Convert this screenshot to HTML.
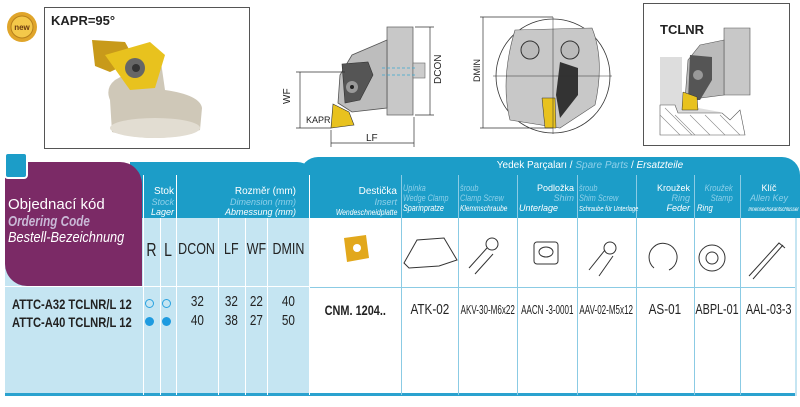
<!DOCTYPE html>
<html><head><meta charset="utf-8"><style>
body{margin:0;width:800px;height:407px;background:#fff;overflow:hidden;position:relative;font-family:"Liberation Sans",sans-serif}
.a{position:absolute}
.hd{position:absolute;text-align:right;font-size:9px;line-height:10px;color:#fff;white-space:nowrap}
.c{position:absolute;display:flex;justify-content:center;text-align:center;font-size:14px;color:#222;white-space:nowrap}
.c span,.sx{display:inline-block;transform:scaleX(.78);flex:none}
.c span.t{transform:scaleX(.62)}
</style></head><body>
<svg class="a" style="left:0;top:0" width="800" height="407" viewBox="0 0 800 407">
<circle cx="22" cy="27" r="15" fill="#e0a52a"/><circle cx="22" cy="27" r="11" fill="#f4c84a" stroke="#b7801c"/>
<text x="22" y="30" font-size="8" font-weight="bold" text-anchor="middle" fill="#6a3a10" font-family="Liberation Sans">new</text>
<rect x="44.5" y="7.5" width="205" height="141" fill="#fff" stroke="#555"/>
<text x="51" y="25" font-size="13" font-weight="bold" fill="#222" font-family="Liberation Sans">KAPR=95°</text>
<path d="M110 100 Q105 88 115 80 L160 55 L165 90 Q200 95 202 108 L200 130 Q160 145 112 132 Z" fill="#cfc8b8"/>
<ellipse cx="155" cy="128" rx="45" ry="10" fill="#e2ddd2"/>
<path d="M92 40 L125 42 L135 60 L110 72 L95 66 Z" fill="#c89a1a"/>
<path d="M105 55 L150 42 L165 55 L155 88 L130 90 Z" fill="#e8c21e"/>
<circle cx="135" cy="68" r="10" fill="#666"/><circle cx="136" cy="68" r="4" fill="#333"/>
<path d="M387 27 L413 27 L413 115 L387 115 Z" fill="#c8c8c8" stroke="#666" stroke-width=".8"/>
<path d="M387 40 L352 55 L340 75 L338 103 L352 112 L387 108 Z" fill="#bdbdbd" stroke="#555" stroke-width=".8"/>
<path d="M342 64 L368 62 L373 75 L360 100 L345 103 Z" fill="#555" stroke="#333" stroke-width=".6"/>
<circle cx="352" cy="87" r="6" fill="#999"/><circle cx="352" cy="87" r="2" fill="#222"/>
<path d="M333 104 L349 112 L354 125 L331 128 Z" fill="#e8c21e" stroke="#333" stroke-width=".6"/>
<rect x="413" y="63" width="12" height="15" fill="#ccc" stroke="#666" stroke-width=".6"/>
<path d="M382 68 L415 68 M382 75 L415 75" stroke="#3aa6d0" stroke-dasharray="3,2" stroke-width=".7"/>
<g stroke="#333" stroke-width=".7" fill="none">
<path d="M300 72 L300 128 M296 72 L345 72 M296 128 L331 128 M331 130 L331 147 M414 117 L414 147 M331 143 L414 143 M415 27 L434 27 M415 115 L434 115 M430 27 L430 115"/>
</g>
<text x="290" y="104" font-size="10" fill="#222" transform="rotate(-90 290 104)" font-family="Liberation Sans">WF</text>
<text x="306" y="123" font-size="9" fill="#222" font-family="Liberation Sans">KAPR</text>
<text x="366" y="141" font-size="10" fill="#222" font-family="Liberation Sans">LF</text>
<text x="441" y="84" font-size="10" fill="#222" transform="rotate(-90 441 84)" font-family="Liberation Sans">DCON</text>
<circle cx="553" cy="76" r="57" fill="#fff" stroke="#333" stroke-width=".8"/>
<path d="M515 30 L592 28 Q605 60 595 105 L560 128 L510 120 Q500 80 515 30 Z" fill="#c8c8c8" stroke="#555" stroke-width=".6"/>
<circle cx="530" cy="50" r="9" fill="#bbb" stroke="#333"/><circle cx="570" cy="50" r="9" fill="#bbb" stroke="#333"/>
<path d="M560 62 L578 68 L578 95 L560 118 L556 95 Z" fill="#333"/>
<path d="M542 98 L555 98 L556 128 L545 128 Z" fill="#e8c21e" stroke="#333" stroke-width=".5"/>
<path d="M553 17 L553 134 M493 76 L612 76" stroke="#333" stroke-width=".5"/>
<path d="M483 17 L483 128 M480 17 L553 17 M480 128 L553 128" stroke="#333" stroke-width=".7"/>
<text x="480" y="82" font-size="9" fill="#222" transform="rotate(-90 480 82)" font-family="Liberation Sans">DMIN</text>
<rect x="643.5" y="3.5" width="146" height="142" fill="#fff" stroke="#555"/>
<text x="660" y="34" font-size="13" font-weight="bold" fill="#222" font-family="Liberation Sans">TCLNR</text>
<path d="M660 57 L682 57 L682 105 L720 112 L730 120 L735 135 L660 135 Z" fill="#ddd"/>
<path d="M660 105 L675 105 L678 113 L722 113 L730 120 L740 110 L745 135 L660 135 Z" fill="#fff" stroke="#555" stroke-width=".6"/>
<g stroke="#888" stroke-width=".6"><path d="M660 115 L680 135 M665 108 L692 135 M675 115 L695 135 M690 115 L710 135 M705 115 L725 135 M720 115 L740 135"/></g>
<path d="M724 28 L750 28 L750 95 L724 95 Z" fill="#c8c8c8" stroke="#555" stroke-width=".6"/>
<path d="M724 40 L700 45 L688 60 L685 100 L724 95 Z" fill="#bbb" stroke="#555" stroke-width=".6"/>
<path d="M690 55 L712 57 L712 80 L700 100 L688 100 Z" fill="#555"/>
<circle cx="698" cy="75" r="5" fill="#999"/>
<path d="M683 92 L697 97 L698 110 L682 110 Z" fill="#e8c21e" stroke="#333" stroke-width=".5"/>
</svg>

<div class="a" style="left:5px;top:218px;width:304px;height:177px;background:#c5e5f2"></div>
<div class="a" style="left:5px;top:393px;width:790px;height:3px;background:#2aa2cf"></div>
<div class="a" style="left:795px;top:175px;width:2px;height:221px;background:#c5e5f2"></div>
<div class="a" style="left:309px;top:287px;width:486px;height:1px;background:#8bcbe4"></div>
<div class="a" style="left:5px;top:286px;width:304px;height:1px;background:#fff"></div>
<div class="a" style="left:130px;top:162px;width:185px;height:56px;background:#1c9dc8;border-radius:0 18px 0 0"></div>
<div class="a" style="left:300px;top:157px;width:500px;height:61px;background:#1c9dc8;border-radius:18px 18px 0 0"></div>
<div class="a" style="left:5px;top:162px;width:137px;height:124px;background:#7b2a66;border-radius:0 22px 0 22px"></div>
<div class="a" style="left:4px;top:152px;width:20px;height:23px;background:#1c9dc8;border:2px solid #fff;border-radius:4px"></div>
<div class="a" style="left:8px;top:196px;color:#fff;font-size:15px;white-space:nowrap">Objednací kód</div>
<div class="a" style="left:8px;top:213px;color:#c9b8d6;font-size:15px;font-weight:bold;font-style:italic;white-space:nowrap"><span class="sx" style="transform-origin:left">Ordering Code</span></div>
<div class="a" style="left:8px;top:229px;color:#fff;font-size:15px;font-style:italic;white-space:nowrap"><span class="sx" style="transform:scaleX(.85);transform-origin:left">Bestell-Bezeichnung</span></div>
<div class="a" style="left:143px;top:175px;width:1px;height:220px;background:#fff"></div>
<div class="a" style="left:160px;top:218px;width:1px;height:177px;background:#fff"></div>
<div class="a" style="left:176px;top:175px;width:1px;height:220px;background:#fff"></div>
<div class="a" style="left:218px;top:218px;width:1px;height:177px;background:#fff"></div>
<div class="a" style="left:245px;top:218px;width:1px;height:177px;background:#fff"></div>
<div class="a" style="left:267px;top:218px;width:1px;height:177px;background:#fff"></div>
<div class="a" style="left:309px;top:175px;width:1px;height:220px;background:#fff"></div>
<div class="a" style="left:401px;top:175px;width:1px;height:220px;background:#8bcbe4"></div>
<div class="a" style="left:458px;top:175px;width:1px;height:220px;background:#8bcbe4"></div>
<div class="a" style="left:517px;top:175px;width:1px;height:220px;background:#8bcbe4"></div>
<div class="a" style="left:577px;top:175px;width:1px;height:220px;background:#8bcbe4"></div>
<div class="a" style="left:636px;top:175px;width:1px;height:220px;background:#8bcbe4"></div>
<div class="a" style="left:694px;top:175px;width:1px;height:220px;background:#8bcbe4"></div>
<div class="a" style="left:740px;top:175px;width:1px;height:220px;background:#8bcbe4"></div>
<div class="hd" style="left:143px;top:186px;width:31px"><span style="font-size:10px">Stok</span><br><span style="color:#8fd0ea;font-style:italic">Stock</span><br><i>Lager</i></div>
<div class="hd" style="left:176px;top:186px;width:120px"><span style="font-size:10px">Rozměr (mm)</span><br><span style="color:#8fd0ea;font-style:italic">Dimension (mm)</span><br><i>Abmessung (mm)</i></div>
<div class="hd" style="left:309px;top:186px;width:88px"><span style="font-size:10px">Destička</span><br><span style="color:#8fd0ea;font-style:italic">Insert</span><br><i style="font-size:8px;display:inline-block;transform:scaleX(.85);transform-origin:right">Wendeschneidplatte</i></div>
<div class="a" style="left:380px;top:160px;width:420px;text-align:center;color:#fff;font-size:10px">Yedek Parçaları / <i style="color:#8fd0ea">Spare Parts</i> / <i>Ersatzteile</i></div>
<div class="hd" style="left:403px;top:183px;text-align:left;color:#8fd0ea;font-style:italic;transform:scaleX(.8);transform-origin:left">Upínka<br>Wedge Clamp<br><span style="color:#fff">Sparinpratze</span></div>
<div class="hd" style="left:460px;top:183px;text-align:left;color:#8fd0ea;font-style:italic;transform:scaleX(.82);transform-origin:left">šroub<br>Clamp Screw<br><span style="color:#fff;font-size:8px">Klemmschraube</span></div>
<div class="hd" style="left:519px;top:183px;width:55px;text-align:left"><span style="display:block;text-align:right">Podložka</span><span style="display:block;text-align:right;color:#8fd0ea;font-style:italic">Shim</span><i>Unterlage</i></div>
<div class="hd" style="left:579px;top:183px;text-align:left;color:#8fd0ea;font-style:italic;transform:scaleX(.82);transform-origin:left">šroub<br>Shim Screw<br><span style="color:#fff;font-size:7px">Schraube für Unterlage</span></div>
<div class="hd" style="left:636px;top:183px;width:54px">Kroužek<br><span style="color:#8fd0ea;font-style:italic">Ring</span><br><i>Feder</i></div>
<div class="hd" style="left:697px;top:183px;width:42px;color:#8fd0ea;font-style:italic;transform:scaleX(.85);transform-origin:left">Kroužek<br>Stamp<br><span style="color:#fff;display:block;text-align:left">Ring</span></div>
<div class="hd" style="left:740px;top:183px;width:58px;text-align:center">Klíč<br><i style="color:#8fd0ea">Allen Key</i><br><i style="font-size:6px;display:inline-block;transform:scaleX(.75)">Innensechskantschlüssel</i></div>
<div class="c" style="left:143px;top:240px;width:17px;font-size:18px"><span>R</span></div>
<div class="c" style="left:160px;top:240px;width:16px;font-size:18px"><span>L</span></div>
<div class="c" style="left:176px;top:241px;width:42px;font-size:16px"><span>DCON</span></div>
<div class="c" style="left:218px;top:241px;width:27px;font-size:16px"><span>LF</span></div>
<div class="c" style="left:245px;top:241px;width:22px;font-size:16px"><span>WF</span></div>
<div class="c" style="left:267px;top:241px;width:42px;font-size:16px"><span>DMIN</span></div>
<svg class="a" style="left:309px;top:218px" width="486" height="69">
<path d="M35 20 L57 17 L60 40 L38 44 Z" fill="#e2a81c"/><circle cx="48" cy="30" r="4" fill="#fff"/>
<g fill="none" stroke="#333" stroke-width="1"><path d="M95 45 L108 22 L135 20 L148 42 L130 48 L100 50 Z"/>
<path d="M160 50 L178 30 M166 56 L184 36"/><circle cx="183" cy="26" r="6"/>
<rect x="225" y="24" width="24" height="22" rx="3"/><ellipse cx="237" cy="34" rx="7" ry="5"/>
<path d="M280 52 L296 32 M290 58 L304 38"/><circle cx="301" cy="30" r="6"/>
<path d="M345 50 A14 14 0 1 1 360 52"/>
<circle cx="403" cy="40" r="13"/><circle cx="403" cy="40" r="6"/>
<path d="M440 58 L470 25 L476 30 M444 61 L474 27"/></g>
</svg>
<div class="a" style="left:12px;top:295px;font-size:14px;font-weight:bold;color:#222;line-height:18px;white-space:nowrap;transform:scaleX(.8);transform-origin:left">ATTC-A32 TCLNR/L 12<br>ATTC-A40 TCLNR/L 12</div>
<div class="a" style="left:145px;top:299px;width:7px;height:7px;border:1.5px solid #2aa2e0;border-radius:50%"></div>
<div class="a" style="left:162px;top:299px;width:7px;height:7px;border:1.5px solid #2aa2e0;border-radius:50%"></div>
<div class="a" style="left:145px;top:317px;width:9px;height:9px;background:#1e9be0;border-radius:50%"></div>
<div class="a" style="left:162px;top:317px;width:9px;height:9px;background:#1e9be0;border-radius:50%"></div>
<div class="c" style="left:176px;top:292px;width:42px;line-height:19px;font-size:15px"><span>32<br>40</span></div>
<div class="c" style="left:218px;top:292px;width:27px;line-height:19px;font-size:15px"><span>32<br>38</span></div>
<div class="c" style="left:245px;top:292px;width:22px;line-height:19px;font-size:15px"><span>22<br>27</span></div>
<div class="c" style="left:267px;top:292px;width:42px;line-height:19px;font-size:15px"><span>40<br>50</span></div>
<div class="c" style="left:309px;top:302px;width:92px;font-weight:bold;font-size:14px"><span>CNM. 1204..</span></div>
<div class="c" style="left:401px;top:301px;width:57px;font-size:15px"><span>ATK-02</span></div>
<div class="c" style="left:458px;top:302px;width:59px;font-size:13px"><span class="t">AKV-30-M6x22</span></div>
<div class="c" style="left:517px;top:302px;width:60px;font-size:13px"><span class="t">AACN -3-0001</span></div>
<div class="c" style="left:577px;top:302px;width:59px;font-size:13px"><span class="t">AAV-02-M5x12</span></div>
<div class="c" style="left:636px;top:301px;width:58px;font-size:15px"><span>AS-01</span></div>
<div class="c" style="left:694px;top:301px;width:46px;font-size:15px"><span style="transform:scaleX(.72)">ABPL-01</span></div>
<div class="c" style="left:740px;top:301px;width:58px;font-size:15px"><span style="transform:scaleX(.72)">AAL-03-3</span></div>
</body></html>
